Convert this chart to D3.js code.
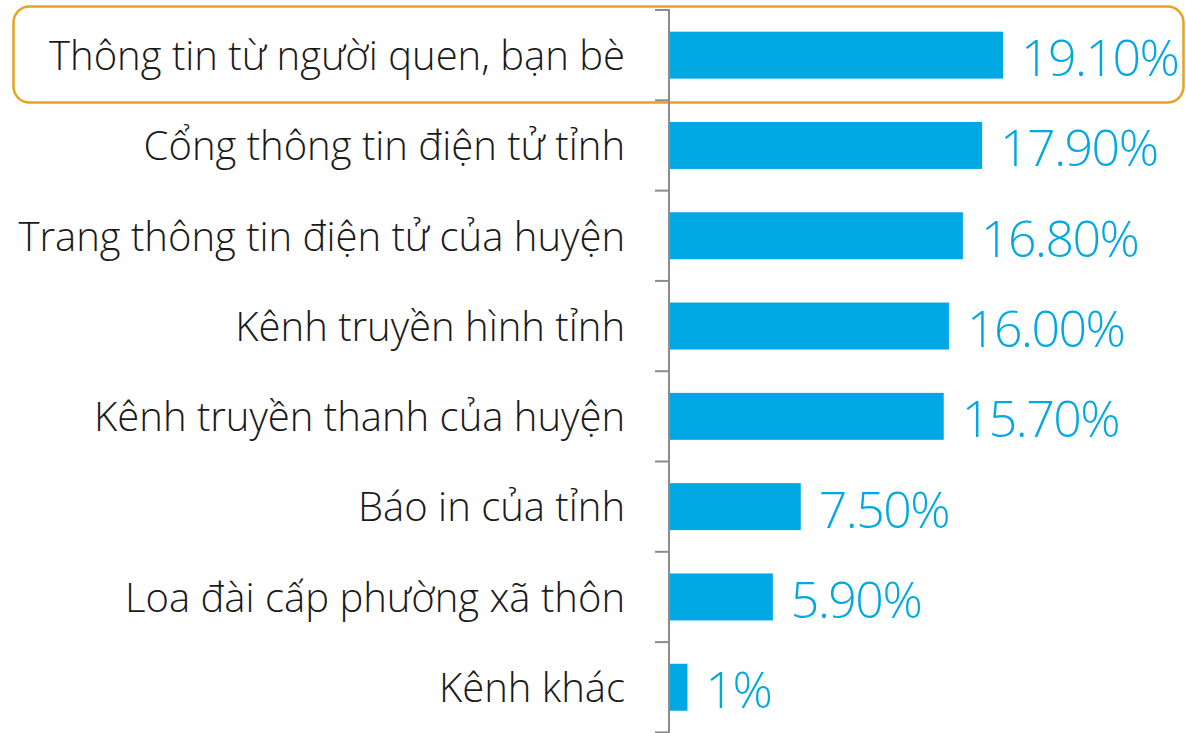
<!DOCTYPE html>
<html>
<head>
<meta charset="utf-8">
<script src="https://cdn.jsdelivr.net/npm/d3@7"></script>
<style>
  body { margin: 0; background: #fff; }
  svg text { font-family: 'Open Sans', sans-serif; font-weight: 300; }
</style>
</head>
<body>
<script>
let width = 1186
let height = 733

let categories = [
    'Thông tin từ người quen, bạn bè',
    'Cổng thông tin điện tử tỉnh',
    'Trang thông tin điện tử của huyện',
    'Kênh truyền hình tỉnh',
    'Kênh truyền thanh của huyện',
    'Báo in của tỉnh',
    'Loa đài cấp phường xã thôn',
    'Kênh khác'
]
let values = [19.1, 17.9, 16.8, 16.0, 15.7, 7.5, 5.9, 1]
let valueLabels = ['19.10%', '17.90%', '16.80%', '16.00%', '15.70%', '7.50%', '5.90%', '1%']

let data = categories.map((c, i) => ({ name: c, value: values[i], label: valueLabels[i] }))

let svg = d3.select('body')
    .append('svg')
        .attr('width', width)
        .attr('height', height)

let y = d3.scaleBand()
    .domain(categories)
    .range([10, 732.4])
    .paddingInner(0.48)
    .paddingOuter(0.24)

let x = d3.scaleLinear()
    .domain([0, 20])
    .range([670, 1018.7])

// highlight box round the first row
svg.append('rect')
    .attr('x', 13.5)
    .attr('y', 6.5)
    .attr('width', 1170)
    .attr('height', 96)
    .attr('rx', 16)
    .attr('fill', 'none')
    .attr('stroke', '#E6A521')
    .attr('stroke-width', 2.5)

// category ticks on the band edges
let edges = categories.map(c => y(c) - y.step() * y.paddingOuter())
edges.push(732.4)

svg.append('g')
    .selectAll('line')
    .data(edges)
    .enter()
    .append('line')
        .attr('x1', 655)
        .attr('x2', 670)
        .attr('y1', d => d)
        .attr('y2', d => d)
        .attr('stroke', '#8c8c8c')
        .attr('stroke-width', 2)

svg.append('line')
    .attr('x1', 669)
    .attr('x2', 669)
    .attr('y1', 9)
    .attr('y2', height)
    .attr('stroke', '#8c8c8c')
    .attr('stroke-width', 2)

svg.append('g')
    .selectAll('rect')
    .data(data)
    .enter()
    .append('rect')
        .attr('x', x(0))
        .attr('y', d => y(d.name))
        .attr('width', d => x(d.value) - x(0))
        .attr('height', y.bandwidth())
        .attr('fill', '#00A8E3')

svg.append('g')
    .selectAll('text')
    .data(data)
    .enter()
    .append('text')
        .attr('x', 625)
        .attr('y', d => y(d.name) + y.bandwidth() / 2)
        .attr('dy', '0.37em')
        .attr('text-anchor', 'end')
        .attr('font-size', 40)
        .attr('fill', '#1a1a1a')
        .text(d => d.name)

svg.append('g')
    .selectAll('text')
    .data(data)
    .enter()
    .append('text')
        .attr('x', d => x(d.value) + 18)
        .attr('y', d => y(d.name) + y.bandwidth() / 2)
        .attr('dy', '0.42em')
        .attr('font-size', 50)
        .attr('letter-spacing', -1.5)
        .attr('fill', '#00A8E3')
        .text(d => d.label)
</script>
</body>
</html>
